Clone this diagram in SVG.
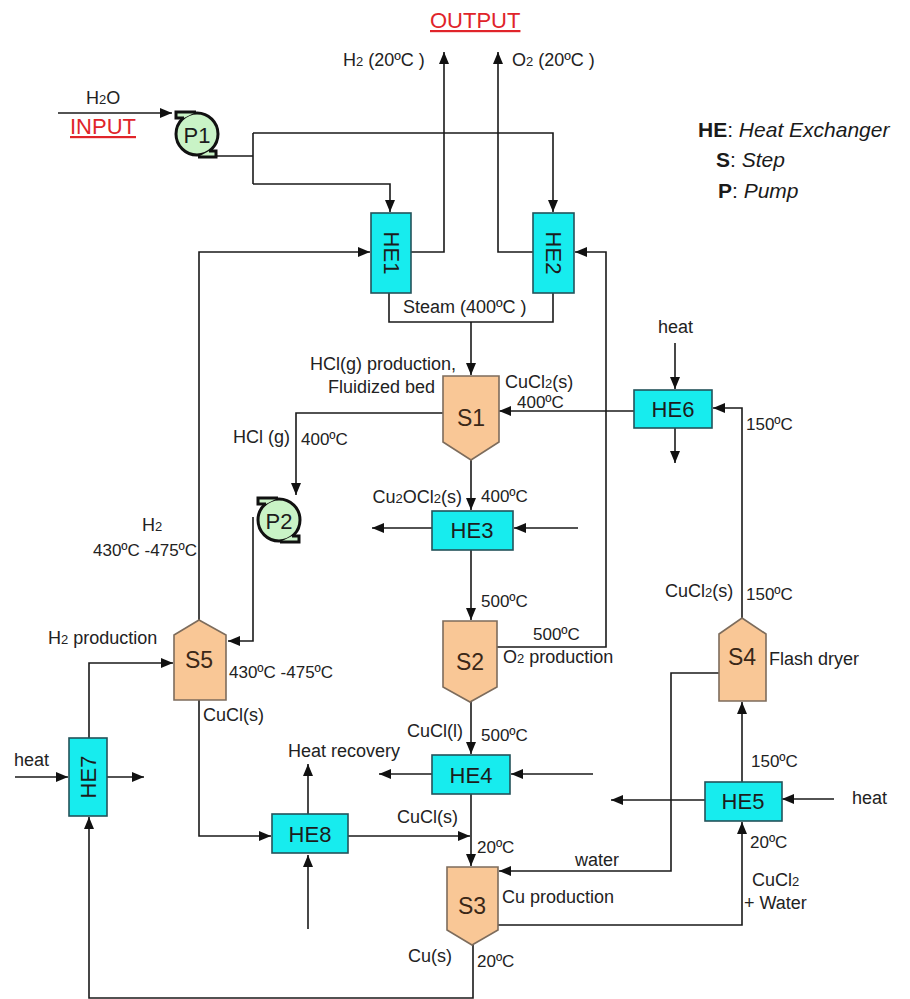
<svg xmlns="http://www.w3.org/2000/svg" width="910" height="999" viewBox="0 0 910 999">
<defs>
<marker id="ah" viewBox="0 0 12 10" refX="12" refY="5" markerWidth="13" markerHeight="10" orient="auto" markerUnits="userSpaceOnUse"><path d="M0,0 L12,5 L0,10 z" fill="#111"/></marker>
<style>
.c{fill:none;stroke:#1a1a1a;stroke-width:1.6}
.ca{fill:none;stroke:#1a1a1a;stroke-width:1.6;marker-end:url(#ah)}
.he{fill:#17ecee;stroke:#24535a;stroke-width:1.6}
.st{fill:#f9c796;stroke:#7d6c5c;stroke-width:1.6}
.pm{fill:#c9f3c6;stroke:#111;stroke-width:3}
.nl{font-family:"Liberation Sans",Arial,sans-serif;font-size:22px;fill:#1c1c1c;text-anchor:middle;dominant-baseline:central}
.sl{font-family:"Liberation Sans",Arial,sans-serif;font-size:23px;fill:#3a2818;text-anchor:middle;dominant-baseline:central}
.t{font-family:"Liberation Sans",Arial,sans-serif;font-size:18px;fill:#222}
.tt{font-family:"Liberation Sans",Arial,sans-serif;font-size:17px;fill:#222}
.red{font-family:"Liberation Sans",Arial,sans-serif;font-size:22px;fill:#e0242a;text-decoration:underline}
.lg{font-family:"Liberation Sans",Arial,sans-serif;font-size:21px;fill:#1a1a1a}
.sub{font-size:13px}
</style>
</defs>

<g id="connectors">
<path class="ca" d="M58,113 L172,113"/>
<path class="c" d="M214,156 L253,156"/>
<path class="c" d="M253,133 L253,184"/>
<path class="ca" d="M253,133 L553,133 L553,212"/>
<path class="ca" d="M253,184 L390,184 L390,212"/>
<path class="ca" d="M411,252 L444,252 L444,52"/>
<path class="ca" d="M533,252 L498,252 L498,52"/>
<path class="ca" d="M199,620 L199,252 L370,252"/>
<path class="ca" d="M497,647 L606,647 L606,252 L575,252"/>
<path class="c" d="M389,293 L389,322 L553,322 L553,293"/>
<path class="ca" d="M471,322 L471,375"/>
<path class="ca" d="M634,411 L499,411"/>
<path class="ca" d="M675,343 L675,389"/>
<path class="ca" d="M675,428 L675,463"/>
<path class="ca" d="M742,618 L742,408 L713,408"/>
<path class="ca" d="M443,413 L296,413 L296,495"/>
<path class="ca" d="M253,517 L253,641 L228,641"/>
<path class="ca" d="M471,460 L471,510"/>
<path class="ca" d="M578,528 L514,528"/>
<path class="ca" d="M432,528 L372,528"/>
<path class="ca" d="M471,550 L471,620"/>
<path class="ca" d="M471,702 L471,754"/>
<path class="ca" d="M593,774 L511,774"/>
<path class="ca" d="M432,774 L379,774"/>
<path class="ca" d="M471,794 L471,866"/>
<path class="ca" d="M348,836 L470,836"/>
<path class="ca" d="M719,673 L671,673 L671,871 L499,871"/>
<path class="ca" d="M742,782 L742,702"/>
<path class="ca" d="M834,799 L782,799"/>
<path class="ca" d="M705,800 L611,800"/>
<path class="ca" d="M498,925 L742,925 L742,822"/>
<path class="ca" d="M473,945 L473,998 L89,998 L89,817"/>
<path class="ca" d="M89,738 L89,663 L173,663"/>
<path class="ca" d="M15,777 L68,777"/>
<path class="ca" d="M107,777 L144,777"/>
<path class="ca" d="M199,700 L199,836 L271,836"/>
<path class="ca" d="M308,814 L308,764"/>
<path class="ca" d="M308,929 L308,855"/>
</g>

<g id="P1">
<circle class="pm" cx="197" cy="134" r="21"/>
<path class="pm" d="M196,112 L176,112 L176,118 L184,118"/>
<path class="pm" d="M198,157 L216,157 L216,151 L209,151"/>
<text class="nl" x="197" y="135" font-size="20">P1</text>
</g>
<g id="P2">
<circle class="pm" cx="279" cy="520" r="21"/>
<path class="pm" d="M278,498 L258,498 L258,504 L266,504"/>
<path class="pm" d="M280,542 L299,542 L299,536 L292,536"/>
<text class="nl" x="279" y="521" font-size="20">P2</text>
</g>

<g id="HE1"><rect class="he" x="371" y="213" width="40" height="80"/><text class="nl" transform="translate(391,253) rotate(90)">HE1</text></g>
<g id="HE2"><rect class="he" x="533" y="213" width="41" height="80"/><text class="nl" transform="translate(553,253) rotate(90)">HE2</text></g>
<g id="HE3"><rect class="he" x="432" y="511" width="81" height="39"/><text class="nl" x="472" y="530">HE3</text></g>
<g id="HE4"><rect class="he" x="432" y="755" width="78" height="39"/><text class="nl" x="471" y="775">HE4</text></g>
<g id="HE5"><rect class="he" x="705" y="782" width="77" height="39"/><text class="nl" x="743" y="801">HE5</text></g>
<g id="HE6"><rect class="he" x="634" y="390" width="78" height="38"/><text class="nl" x="673" y="409">HE6</text></g>
<g id="HE7"><rect class="he" x="69" y="738" width="38" height="78"/><text class="nl" transform="translate(88,777) rotate(-90)">HE7</text></g>
<g id="HE8"><rect class="he" x="272" y="814" width="76" height="39"/><text class="nl" x="310" y="834">HE8</text></g>

<g id="S1"><path class="st" d="M443,376 L499,376 L499,442 L471,460 L443,442 Z"/><text class="sl" x="471" y="418">S1</text></g>
<g id="S2"><path class="st" d="M443,621 L497,621 L497,687 L470,702 L443,687 Z"/><text class="sl" x="470" y="662">S2</text></g>
<g id="S3"><path class="st" d="M447,867 L498,867 L498,930 L472,945 L447,930 Z"/><text class="sl" x="472" y="906">S3</text></g>
<g id="S4"><path class="st" d="M742,618 L766,634 L766,701 L719,701 L719,634 Z"/><text class="sl" x="742" y="657">S4</text></g>
<g id="S5"><path class="st" d="M199,620 L226,635 L226,700 L174,700 L174,635 Z"/><text class="sl" x="199" y="660">S5</text></g>

<g id="labels">
<text class="red" x="430" y="28">OUTPUT</text>
<text class="red" x="70" y="134">INPUT</text>
<text class="t" x="86" y="104">H<tspan class="sub">2</tspan>O</text>
<text class="t" x="343" y="66">H<tspan class="sub">2</tspan> (20ºC )</text>
<text class="t" x="512" y="66">O<tspan class="sub">2</tspan> (20ºC )</text>
<text class="t" x="403" y="313">Steam (400ºC )</text>
<text class="t" x="456" y="370" text-anchor="end">HCl(g) production,</text>
<text class="t" x="435" y="393" text-anchor="end">Fluidized bed</text>
<text class="t" x="505" y="388">CuCl<tspan class="sub">2</tspan>(s)</text>
<text class="tt" x="517" y="408">400ºC</text>
<text class="t" x="233" y="443">HCl (g)</text>
<text class="tt" x="301" y="445">400ºC</text>
<text class="t" x="462" y="503" text-anchor="end">Cu<tspan class="sub">2</tspan>OCl<tspan class="sub">2</tspan>(s)</text>
<text class="tt" x="481" y="502">400ºC</text>
<text class="t" x="142" y="531">H<tspan class="sub">2</tspan></text>
<text class="tt" x="93" y="556">430ºC -475ºC</text>
<text class="t" x="48" y="644">H<tspan class="sub">2</tspan> production</text>
<text class="tt" x="481" y="607">500ºC</text>
<text class="tt" x="533" y="640">500ºC</text>
<text class="t" x="503" y="663">O<tspan class="sub">2</tspan> production</text>
<text class="t" x="658" y="333">heat</text>
<text class="tt" x="746" y="430">150ºC</text>
<text class="t" x="665" y="597">CuCl<tspan class="sub">2</tspan>(s)</text>
<text class="tt" x="746" y="600">150ºC</text>
<text class="t" x="769" y="665">Flash dryer</text>
<text class="t" x="463" y="737" text-anchor="end">CuCl(l)</text>
<text class="tt" x="481" y="741">500ºC</text>
<text class="t" x="288" y="757">Heat recovery</text>
<text class="tt" x="751" y="767">150ºC</text>
<text class="t" x="852" y="804">heat</text>
<text class="t" x="14" y="766">heat</text>
<text class="t" x="203" y="721">CuCl(s)</text>
<text class="tt" x="229" y="678">430ºC -475ºC</text>
<text class="t" x="397" y="823">CuCl(s)</text>
<text class="tt" x="477" y="853">20ºC</text>
<text class="t" x="575" y="866">water</text>
<text class="t" x="502" y="903">Cu production</text>
<text class="tt" x="750" y="848">20ºC</text>
<text class="t" x="752" y="886">CuCl<tspan class="sub">2</tspan></text>
<text class="t" x="744" y="909">+ Water</text>
<text class="t" x="408" y="962">Cu(s)</text>
<text class="tt" x="477" y="967">20ºC</text>
</g>

<g id="legend">
<text class="lg" x="698" y="137"><tspan font-weight="bold">HE</tspan>: <tspan font-style="italic">Heat Exchanger</tspan></text>
<text class="lg" x="716" y="167"><tspan font-weight="bold">S</tspan>: <tspan font-style="italic">Step</tspan></text>
<text class="lg" x="718" y="198"><tspan font-weight="bold">P</tspan>: <tspan font-style="italic">Pump</tspan></text>
</g>
</svg>
